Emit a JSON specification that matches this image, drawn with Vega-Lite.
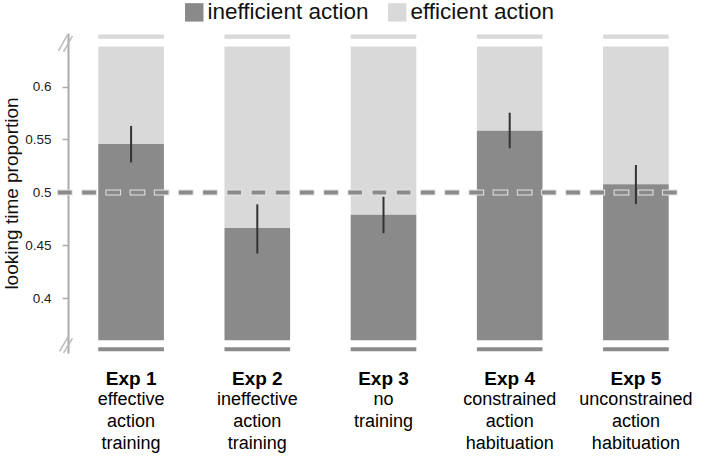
{
  "$schema": "https://vega.github.io/schema/vega-lite/v6.json",
  "width": 631,
  "height": 320,
  "autosize": "none",
  "padding": {"left": 68, "top": 33, "right": 18, "bottom": 115},
  "config": {"view": {"stroke": null}, "font": "Liberation Sans", "axis": {"grid": false}},
  "data": {"values": [
    {"exp": "Exp 1", "desc": "effective action training", "value": 0.5457, "lo": 0.5284, "hi": 0.5628},
    {"exp": "Exp 2", "desc": "ineffective action training", "value": 0.4664, "lo": 0.4424, "hi": 0.4888},
    {"exp": "Exp 3", "desc": "no training", "value": 0.4789, "lo": 0.4616, "hi": 0.4959},
    {"exp": "Exp 4", "desc": "constrained action habituation", "value": 0.5583, "lo": 0.5417, "hi": 0.5753},
    {"exp": "Exp 5", "desc": "unconstrained action habituation", "value": 0.5077, "lo": 0.489, "hi": 0.5259}
  ]},
  "resolve": {"scale": {"x": "independent"}},
  "layer": [
    {
      "mark": {"type": "bar", "color": "#d9d9d9"},
      "encoding": {
        "x": {"field": "exp", "type": "nominal", "sort": null, "scale": {"paddingInner": 0.48, "paddingOuter": 0.24}, "axis": null},
        "y": {"datum": 0.6451, "type": "quantitative",
              "scale": {"domain": [0.3485, 0.6505], "nice": false, "zero": false},
              "axis": {"title": "looking time proportion", "values": [0.4, 0.45, 0.5, 0.55, 0.6], "format": ".2~f",
                       "domainColor": "#ababab", "domainWidth": 2, "tickColor": "#ababab", "tickSize": 6, "tickWidth": 1.5,
                       "labelFontSize": 13.5, "labelColor": "#222", "labelPadding": 11,
                       "titleFontSize": 19, "titleFontWeight": "normal", "titleColor": "#111", "titlePadding": 3}},
        "y2": {"datum": 0.6491}
      }
    },
    {
      "mark": {"type": "bar", "color": "#8a8a8a"},
      "encoding": {
        "x": {"field": "exp", "type": "nominal", "sort": null, "scale": {"paddingInner": 0.48, "paddingOuter": 0.24}, "axis": null},
        "y": {"datum": 0.3501, "type": "quantitative"},
        "y2": {"datum": 0.3539}
      }
    },
    {
      "mark": {"type": "bar"},
      "encoding": {
        "x": {"field": "exp", "type": "nominal", "sort": null, "scale": {"paddingInner": 0.48, "paddingOuter": 0.24},
              "axis": {"orient": "bottom", "title": null, "domain": false, "ticks": false, "labelAngle": 0,
                       "labelFontSize": 19, "labelFontWeight": "bold", "labelColor": "#000", "labelPadding": 16}},
        "y": {"field": "value", "type": "quantitative"},
        "y2": {"datum": 0.6377},
        "color": {"datum": "efficient action", "type": "nominal",
                  "scale": {"domain": ["inefficient action", "efficient action"], "range": ["#8a8a8a", "#d9d9d9"]},
                  "legend": {"orient": "none", "legendX": 115, "legendY": -32, "direction": "horizontal", "columns": 2,
                             "title": null, "symbolType": "square", "symbolSize": 340, "symbolStrokeWidth": 0,
                             "labelFontSize": 22.5, "labelLimit": 0, "labelColor": "#111", "columnPadding": 17, "labelOffset": 2}}
      }
    },
    {
      "mark": {"type": "bar"},
      "encoding": {
        "x": {"field": "exp", "type": "nominal", "sort": null, "scale": {"paddingInner": 0.48, "paddingOuter": 0.24}, "axis": null},
        "y": {"field": "value", "type": "quantitative"},
        "y2": {"datum": 0.3605},
        "color": {"datum": "inefficient action", "type": "nominal"}
      }
    },
    {
      "data": {"values": [{}]},
      "mark": {"type": "rule", "color": "#e4e4e4", "strokeWidth": 6, "strokeDash": [15.7, 8.5]},
      "encoding": {
        "x": {"datum": -0.0174, "type": "quantitative", "scale": {"domain": [0, 1], "nice": false, "zero": false}, "axis": null},
        "x2": {"datum": 0.967},
        "y": {"datum": 0.5, "type": "quantitative"}
      }
    },
    {
      "data": {"values": [{}]},
      "mark": {"type": "rule", "color": "#8a8a8a", "strokeWidth": 4, "strokeDash": [13.7, 10.5]},
      "encoding": {
        "x": {"datum": -0.0159, "type": "quantitative", "scale": {"domain": [0, 1], "nice": false, "zero": false}, "axis": null},
        "x2": {"datum": 0.967},
        "y": {"datum": 0.5, "type": "quantitative"}
      }
    },
    {
      "mark": {"type": "rule", "color": "#333333", "strokeWidth": 2},
      "encoding": {
        "x": {"field": "exp", "type": "nominal", "sort": null, "scale": {"paddingInner": 0.48, "paddingOuter": 0.24}, "axis": null},
        "y": {"field": "lo", "type": "quantitative"},
        "y2": {"field": "hi"}
      }
    },
    {
      "mark": {"type": "text", "fontSize": 18, "lineBreak": " ", "lineHeight": 22, "baseline": "top", "align": "center", "color": "#000"},
      "encoding": {
        "x": {"field": "exp", "type": "nominal", "sort": null, "scale": {"paddingInner": 0.48, "paddingOuter": 0.24}, "axis": null},
        "y": {"datum": 0.3126, "type": "quantitative"},
        "text": {"field": "desc"}
      }
    },
    {
      "data": {"values": [{}]},
      "mark": {"type": "rule", "color": "#bbbbbb", "strokeWidth": 1.5},
      "encoding": {
        "x": {"datum": -0.0151, "type": "quantitative", "scale": {"domain": [0, 1], "nice": false, "zero": false}, "axis": null},
        "x2": {"datum": -0.0008},
        "y": {"datum": 0.6336, "type": "quantitative"},
        "y2": {"datum": 0.6488}
      }
    },
    {
      "data": {"values": [{}]},
      "mark": {"type": "rule", "color": "#bbbbbb", "strokeWidth": 1.5},
      "encoding": {
        "x": {"datum": -0.0071, "type": "quantitative", "scale": {"domain": [0, 1], "nice": false, "zero": false}, "axis": null},
        "x2": {"datum": 0.0071},
        "y": {"datum": 0.6327, "type": "quantitative"},
        "y2": {"datum": 0.6478}
      }
    },
    {
      "data": {"values": [{}]},
      "mark": {"type": "rule", "color": "#bbbbbb", "strokeWidth": 1.5},
      "encoding": {
        "x": {"datum": -0.0135, "type": "quantitative", "scale": {"domain": [0, 1], "nice": false, "zero": false}, "axis": null},
        "x2": {"datum": 0.0008},
        "y": {"datum": 0.3501, "type": "quantitative"},
        "y2": {"datum": 0.3643}
      }
    },
    {
      "data": {"values": [{}]},
      "mark": {"type": "rule", "color": "#bbbbbb", "strokeWidth": 1.5},
      "encoding": {
        "x": {"datum": -0.0071, "type": "quantitative", "scale": {"domain": [0, 1], "nice": false, "zero": false}, "axis": null},
        "x2": {"datum": 0.0071},
        "y": {"datum": 0.3487, "type": "quantitative"},
        "y2": {"datum": 0.3624}
      }
    }
  ]
}
